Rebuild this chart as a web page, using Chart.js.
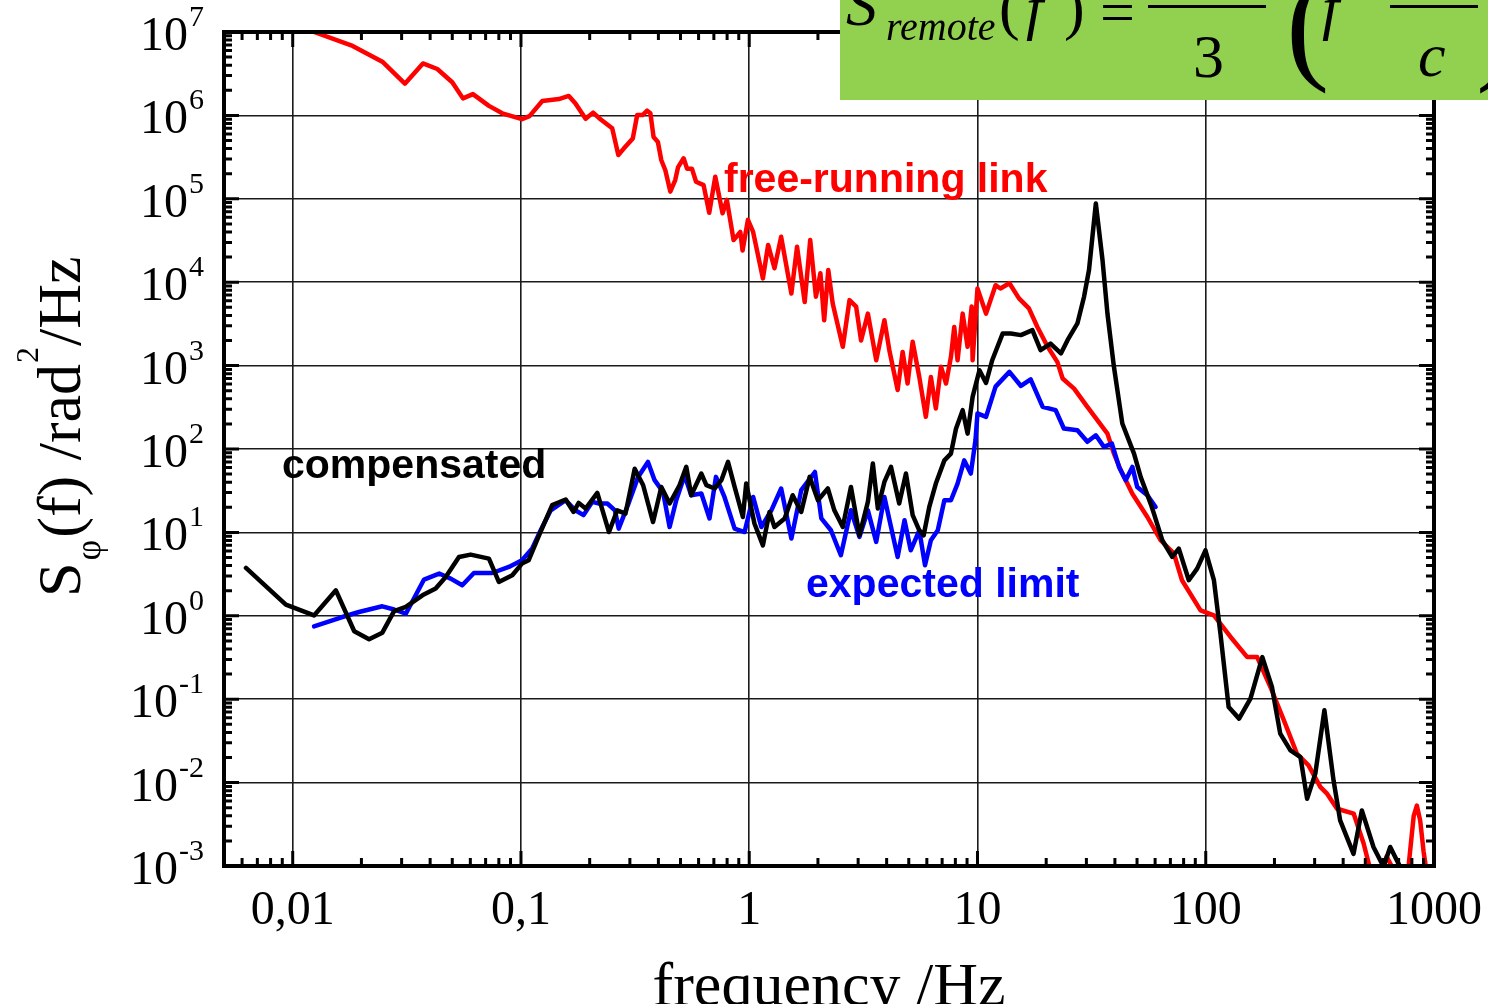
<!DOCTYPE html>
<html>
<head>
<meta charset="utf-8">
<script src="https://cdn.jsdelivr.net/npm/chart.js@4.4.1/dist/chart.umd.min.js"></script>
<style>
  html, body { margin: 0; padding: 0; background: #fff; overflow: hidden; }
  canvas { display: block; }
</style>
</head>
<body>
<canvas id="graficoPSD" width="1488" height="1004"></canvas>
<script>
// ================= DATOS =================
// free-running link (rojo)
const frecLibre = [0.0124, 0.0183, 0.0247, 0.031, 0.0372, 0.043, 0.05, 0.0557, 0.0616, 0.0724, 0.0828, 0.101, 0.109, 0.124, 0.1465, 0.162, 0.173, 0.192, 0.207, 0.223, 0.251, 0.267, 0.282, 0.309, 0.323, 0.341, 0.357, 0.369, 0.381, 0.398, 0.412, 0.429, 0.451, 0.474, 0.488, 0.516, 0.534, 0.561, 0.585, 0.631, 0.668, 0.71, 0.764, 0.798, 0.854, 0.914, 0.935, 0.987, 1.04, 1.148, 1.21, 1.29, 1.38, 1.53, 1.62, 1.75, 1.85, 1.96, 2.05, 2.13, 2.22, 2.32, 2.57, 2.75, 2.94, 3.09, 3.31, 3.6, 3.91, 4.11, 4.47, 4.7, 4.94, 5.2, 5.56, 5.94, 6.25, 6.57, 6.92, 7.28, 7.65, 7.91, 8.18, 8.61, 9.05, 9.43, 9.52, 10.0, 10.9, 12.0, 12.6, 13.8, 15.2, 16.8, 18.3, 20.3, 22.4, 23.6, 26.5, 30.3, 33.5, 37.1, 39.6, 42.4, 47.7, 55.5, 63.4, 72.5, 78.7, 94.9, 108.6, 128.5, 152, 168, 192, 220, 251, 282, 318, 340, 376, 445, 492, 526, 580, 620, 680, 771, 815, 841, 870, 900, 931];
const psdLibre = [1.0e7, 6.8e6, 4.4e6, 2.4e6, 4.2e6, 3.6e6, 2.5e6, 1.6e6, 1.8e6, 1.3e6, 1.06e6, 9.0e5, 9.8e5, 1.49e6, 1.57e6, 1.71e6, 1.4e6, 9.1e5, 1.08e6, 9.0e5, 7.0e5, 3.35e5, 4.0e5, 5.3e5, 1.01e6, 1.01e6, 1.14e6, 1.06e6, 5.5e5, 4.8e5, 2.9e5, 2.2e5, 1.22e5, 1.68e5, 2.4e5, 3.06e5, 2.3e5, 2.3e5, 1.6e5, 1.46e5, 6.8e4, 1.84e5, 6.7e4, 9.7e4, 3.2e4, 4.0e4, 2.4e4, 5.6e4, 4.0e4, 1.11e4, 2.8e4, 1.47e4, 3.5e4, 7.3e3, 2.66e4, 5.8e3, 3.2e4, 6.7e3, 1.28e4, 3.5e3, 1.4e4, 5.6e3, 1.68e3, 6.1e3, 5.1e3, 2.0e3, 4.2e3, 1.16e3, 3.5e3, 1.53e3, 510, 1.46e3, 610, 1.93e3, 730, 243, 730, 306, 970, 610, 1.27e3, 2.9e3, 1.16e3, 4.2e3, 1.68e3, 5.1e3, 1.16e3, 8.4e3, 4.2e3, 9.2e3, 8.4e3, 9.7e3, 6.4e3, 4.85e3, 2.9e3, 1.68e3, 1.1e3, 700, 530, 320, 222, 153, 88, 56, 29, 15.3, 8.05, 5.6, 2.67, 1.16, 1.01, 0.557, 0.32, 0.32, 0.14, 0.0557, 0.0222, 0.0161, 0.00883, 0.00736, 0.00486, 0.00424, 0.00185, 0.0009, 0.0007, 0.0013, 0.0008, 0.0009, 0.004, 0.0053, 0.0035, 0.0015, 0.0008];

// compensated (negro)
const frecComp = [0.00624, 0.00933, 0.0124, 0.01546, 0.0186, 0.0216, 0.0247, 0.0278, 0.0313, 0.037, 0.0423, 0.0468, 0.0535, 0.0602, 0.0724, 0.08, 0.0916, 0.101, 0.108, 0.12, 0.137, 0.157, 0.17, 0.179, 0.192, 0.216, 0.243, 0.264, 0.287, 0.315, 0.343, 0.379, 0.412, 0.448, 0.495, 0.53, 0.557, 0.617, 0.649, 0.705, 0.755, 0.807, 0.863, 0.938, 0.97, 1.054, 1.148, 1.227, 1.29, 1.43, 1.55, 1.69, 1.84, 2.0, 2.21, 2.36, 2.57, 2.79, 3.04, 3.31, 3.48, 3.66, 3.91, 4.18, 4.54, 4.86, 5.2, 5.56, 5.81, 6.15, 6.57, 7.16, 7.65, 8.05, 8.61, 9.05, 9.52, 10.2, 10.9, 11.6, 12.9, 14.0, 15.5, 17.4, 18.9, 20.9, 23.2, 24.8, 27.4, 29.3, 30.8, 33.0, 35.3, 37.1, 39.6, 43.1, 48.5, 51.9, 57.4, 59.3, 64.5, 71.3, 76.2, 84.3, 91.7, 99.7, 108.6, 116, 126, 140, 157, 177, 195, 212, 235, 260, 278, 302, 331, 363, 388, 444, 483, 543, 601, 643, 700, 724];
const psdComp = [3.75, 1.36, 1.01, 2.02, 0.652, 0.523, 0.628, 1.14, 1.28, 1.76, 2.12, 2.92, 5.08, 5.42, 4.85, 2.55, 3.06, 4.23, 4.63, 9.24, 21.2, 24.8, 17.6, 22.6, 19.3, 29.7, 10.1, 18.4, 16.8, 58, 36.8, 13.3, 35.1, 22.2, 36.8, 61, 27.9, 50.8, 36.8, 33.6, 42.3, 70, 35.1, 15.3, 38.5, 12.8, 7.0, 17.6, 11.6, 14.7, 27.9, 17.6, 46.3, 24.3, 33.6, 18.4, 11.6, 35.1, 9.24, 23.2, 67, 19.3, 40.3, 61, 22.2, 50.8, 16.1, 10.6, 9.24, 20.2, 38.5, 73, 88, 175, 292, 153, 422, 881, 620, 1160, 2430, 2430, 2320, 2660, 1530, 1840, 1400, 2020, 3200, 6700, 14000, 88000, 18400, 4200, 970, 202, 88, 46, 22, 16.8, 8.05, 5.08, 6.4, 2.67, 3.68, 6.1, 2.67, 0.61, 0.0805, 0.0585, 0.1016, 0.32, 0.14, 0.0386, 0.0243, 0.0202, 0.0064, 0.0128, 0.0735, 0.0106, 0.00352, 0.0014, 0.00464, 0.00169, 0.00098, 0.00169, 0.00106, 0.0009];

// expected limit (azul)
const frecLimite = [0.0124, 0.0165, 0.0195, 0.0247, 0.0278, 0.0313, 0.0376, 0.0438, 0.0492, 0.0553, 0.0622, 0.0748, 0.0885, 0.101, 0.112, 0.122, 0.135, 0.157, 0.173, 0.188, 0.205, 0.22, 0.239, 0.258, 0.268, 0.294, 0.326, 0.36, 0.385, 0.419, 0.448, 0.479, 0.521, 0.557, 0.617, 0.67, 0.715, 0.779, 0.863, 0.954, 1.04, 1.13, 1.25, 1.38, 1.53, 1.69, 1.94, 2.07, 2.28, 2.52, 2.79, 3.04, 3.31, 3.6, 3.91, 4.18, 4.47, 4.79, 5.1, 5.56, 5.89, 6.25, 6.7, 7.16, 7.65, 8.18, 8.75, 9.35, 9.8, 10.0, 10.9, 12.0, 13.8, 15.5, 17.1, 19.3, 22.0, 23.9, 27.4, 30.3, 33.0, 35.8, 38.8, 41.7, 44.6, 47.7, 50.1, 55.5, 60.3];
const psdLimite = [0.748, 0.967, 1.11, 1.30, 1.19, 1.06, 2.72, 3.21, 2.79, 2.32, 3.26, 3.26, 3.85, 4.63, 6.4, 10.6, 18.4, 24.3, 18.4, 16.1, 23.2, 22.2, 22.2, 18.4, 11.1, 21.2, 46.3, 70, 42.3, 30.6, 11.6, 24.3, 48.5, 27.9, 29.3, 14.7, 46.3, 26.6, 11.1, 10.1, 26.6, 11.6, 18.4, 33.6, 8.43, 32.1, 53, 14.7, 10.6, 5.32, 18.4, 8.83, 18.4, 7.69, 26.6, 11.6, 5.08, 14, 6.1, 10.6, 4.04, 8.05, 10.6, 24.3, 24.3, 38.5, 73, 50.8, 128, 267, 243, 560, 841, 570, 685, 320, 292, 176, 168, 122, 146, 106, 116, 61, 42.3, 61, 35.1, 27.9, 20.2];

// ejes
const decadasX = [0.01, 0.1, 1, 10, 100, 1000];
const etiquetasX = ["0,01", "0,1", "1", "10", "100", "1000"];
const exponentesY = [-3, -2, -1, 0, 1, 2, 3, 4, 5, 6, 7];

// ================= FUNCIONES UTILES =================
function puntos(frec, psd) {
  return frec.map((f, i) => ({ x: f, y: psd[i] }));
}

function pasosLog(min, max) {
  const out = [];
  const e0 = Math.floor(Math.log10(min));
  const e1 = Math.ceil(Math.log10(max));
  for (let e = e0; e <= e1; e++) {
    for (let m = 1; m <= 9; m++) {
      const v = m * Math.pow(10, e);
      if (v >= min * 0.999 && v <= max * 1.001) out.push({ v, mayor: m === 1 });
    }
  }
  return out;
}

const SERIF = '"Liberation Serif", "DejaVu Serif", serif';
const SANS = '"Liberation Sans", Arial, sans-serif';

// ================= PLUGIN: marco, ticks, textos =================
const decoracion = {
  id: "decoracion",
  afterDraw(chart) {
    const ctx = chart.ctx;
    const a = chart.chartArea;
    const xs = chart.scales.x;
    const ys = chart.scales.y;
    ctx.save();

    // marco
    ctx.strokeStyle = "#000";
    ctx.lineWidth = 4;
    ctx.strokeRect(a.left, a.top, a.right - a.left, a.bottom - a.top);

    // ticks hacia dentro en los cuatro lados
    ctx.lineWidth = 3;
    ctx.lineCap = "butt";
    pasosLog(xs.min, xs.max).forEach(t => {
      const px = xs.getPixelForValue(t.v);
      const len = t.mayor ? 15 : 8;
      ctx.beginPath();
      ctx.moveTo(px, a.bottom); ctx.lineTo(px, a.bottom - len);
      ctx.moveTo(px, a.top); ctx.lineTo(px, a.top + len);
      ctx.stroke();
    });
    pasosLog(ys.min, ys.max).forEach(t => {
      const py = ys.getPixelForValue(t.v);
      const len = t.mayor ? 15 : 8;
      ctx.beginPath();
      ctx.moveTo(a.left, py); ctx.lineTo(a.left + len, py);
      ctx.moveTo(a.right, py); ctx.lineTo(a.right - len, py);
      ctx.stroke();
    });

    // etiquetas eje x
    ctx.fillStyle = "#000";
    ctx.font = "48px " + SERIF;
    ctx.textAlign = "center";
    ctx.textBaseline = "alphabetic";
    decadasX.forEach((v, i) => {
      ctx.fillText(etiquetasX[i], xs.getPixelForValue(v), a.bottom + 58);
    });

    // etiquetas eje y (10 con exponente)
    exponentesY.forEach(e => {
      const py = ys.getPixelForValue(Math.pow(10, e));
      const txtExp = e < 0 ? "-" + Math.abs(e) : String(e);
      ctx.textAlign = "right";
      ctx.font = "30px " + SERIF;
      const wExp = ctx.measureText(txtExp).width;
      ctx.fillText(txtExp, 204, py - 6);
      ctx.font = "48px " + SERIF;
      ctx.fillText("10", 204 - wExp - 1, py + 18);
    });

    // titulo eje x
    ctx.textAlign = "center";
    ctx.font = "62px " + SERIF;
    ctx.fillText("frequency /Hz", 829, 1005);

    // titulo eje y (rotado)
    ctx.save();
    ctx.translate(80, 597);
    ctx.rotate(-Math.PI / 2);
    ctx.textAlign = "left";
    let x = 0;
    ctx.font = "62px " + SERIF;
    ctx.fillText("S", x, 0); x += ctx.measureText("S").width;
    ctx.font = "36px " + SERIF;
    ctx.fillText("φ", x + 2, 20); x += ctx.measureText("φ").width + 4;
    ctx.font = "62px " + SERIF;
    ctx.fillText("(f) /rad", x, 0); x += ctx.measureText("(f) /rad").width;
    ctx.font = "32px " + SERIF;
    ctx.fillText("2", x + 1, -42); x += ctx.measureText("2").width + 2;
    ctx.font = "62px " + SERIF;
    ctx.fillText("/Hz", x, 0);
    ctx.restore();

    // anotaciones
    ctx.textAlign = "left";
    ctx.font = "bold 41px " + SANS;
    ctx.fillStyle = "#ff0000";
    ctx.fillText("free-running link", 724, 192);
    ctx.fillStyle = "#000000";
    ctx.fillText("compensated", 282, 478);
    ctx.fillStyle = "#0000ff";
    ctx.fillText("expected limit", 806, 597);

    // recuadro verde con la formula
    ctx.fillStyle = "#92d050";
    ctx.fillRect(840, 0, 648, 100);
    ctx.fillStyle = "#000";
    ctx.font = "italic 62px " + SERIF;
    ctx.fillText("S", 846, 25);
    ctx.font = "italic 40px " + SERIF;
    ctx.fillText("remote", 886, 40);
    ctx.font = "62px " + SERIF;
    ctx.fillText("(", 999, 28);
    ctx.font = "italic 62px " + SERIF;
    ctx.fillText("f", 1026, 28);
    ctx.font = "62px " + SERIF;
    ctx.fillText(")", 1064, 28);
    ctx.fillText("=", 1100, 33);
    ctx.fillRect(1148, 5, 118, 3);
    ctx.fillText("3", 1193, 77);
    ctx.font = "130px " + SERIF;
    ctx.fillText("(", 1286, 66);
    ctx.font = "italic 62px " + SERIF;
    ctx.fillText("f", 1322, 28);
    ctx.fillRect(1390, 5, 88, 3);
    ctx.fillText("c", 1418, 76);
    ctx.font = "130px " + SERIF;
    ctx.fillText(")", 1476, 66);

    ctx.restore();
  }
};

// ================= GRAFICO =================
const estiloLinea = { showLine: true, pointRadius: 0, borderWidth: 4.5, borderJoinStyle: "round", borderCapStyle: "round", tension: 0, clip: 0 };

new Chart(document.getElementById("graficoPSD").getContext("2d"), {
  type: "scatter",
  data: {
    datasets: [
      { ...estiloLinea, label: "compensated", data: puntos(frecComp, psdComp), borderColor: "#000000" },
      { ...estiloLinea, label: "expected limit", data: puntos(frecLimite, psdLimite), borderColor: "#0000ff" },
      { ...estiloLinea, label: "free-running link", data: puntos(frecLibre, psdLibre), borderColor: "#ff0000" }
    ]
  },
  options: {
    responsive: false,
    animation: false,
    layout: { padding: { left: 224, right: 54, top: 32, bottom: 138 } },
    plugins: { legend: { display: false }, tooltip: { enabled: false } },
    scales: {
      x: {
        type: "logarithmic",
        min: 0.005,
        max: 1000,
        afterBuildTicks: s => { s.ticks = decadasX.map(v => ({ value: v })); },
        ticks: { display: false },
        grid: { color: "#1a1a1a", lineWidth: 1.6, drawTicks: false },
        border: { display: false }
      },
      y: {
        type: "logarithmic",
        min: 1e-3,
        max: 1e7,
        afterBuildTicks: s => { s.ticks = exponentesY.map(e => ({ value: Math.pow(10, e) })); },
        ticks: { display: false },
        grid: { color: "#1a1a1a", lineWidth: 1.6, drawTicks: false },
        border: { display: false }
      }
    }
  },
  plugins: [decoracion]
});
</script>
</body>
</html>
